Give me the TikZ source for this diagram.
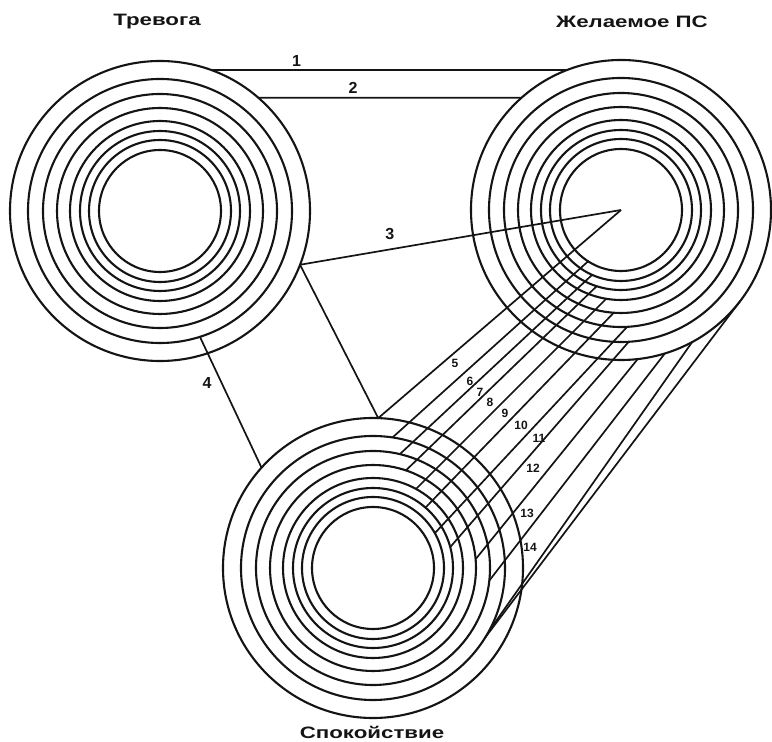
\documentclass[tikz,border=0pt]{standalone}
\usepackage{fontspec}
\setmainfont{Liberation Sans}
\newfontfamily\ttlfont[FakeStretch=1.35]{Liberation Sans}
\usetikzlibrary{calc}
\definecolor{Ink}{HTML}{141414}

\begin{document}
\begin{tikzpicture}[x=1pt,y=1pt,
    ring/.style={draw=Ink,line width=2.1pt},
    link/.style={draw=Ink,line width=1.7pt},
    ttl/.style={font=\ttlfont\bfseries\fontsize{16.5}{18}\selectfont,text=Ink},
    num/.style={font=\bfseries\fontsize{16}{17}\selectfont,text=Ink,inner sep=1pt},
    tag/.style={font=\bfseries\fontsize{12}{13}\selectfont,text=Ink,inner sep=0.5pt}]
  \useasboundingbox (0,0) rectangle (772,742);
  \coordinate (A) at (160,531);
  \coordinate (B) at (621,532);
  \coordinate (C) at (373,174);
  % rings
  \foreach \c in {A,B,C}
    \foreach \r in {150,132,117,103,90,80,71,61}
      \draw[ring] (\c) circle[radius=\r pt];
  \node[ttl] (tA) at (157,720) {Тревога};
  \node[ttl] (tB) at (632,720) {Желаемое ПС};
  \node[ttl] (tC) at (372,10) {Спокойствие};
  % ends on the rings
  \coordinate (a1) at ($(A)+(70:150pt)$);
  \coordinate (b1) at ($(B)+(111.1:150pt)$);
  \coordinate (a2) at ($(A)+(49:150pt)$);
  \coordinate (b2) at ($(B)+(131.6:150pt)$);
  \coordinate (a3) at ($(A)+(-21:150pt)$);
  \coordinate (c0) at ($(C)+(88:150pt)$);
  \coordinate (a4) at ($(A)+(-72.4:132pt)$);
  \coordinate (c4) at ($(C)+(138:150pt)$);
  \draw[link] (a1) -- node[num,above=2pt,pos=0.24]{1} (b1);
  \draw[link] (a2) -- node[num,above=2pt,pos=0.36]{2} (b2);
  \draw[link] (a3) -- node[num,above=8pt,pos=0.28]{3} (B);
  \draw[link] (a3) -- (c0) -- (B);
  \draw[link] (a4) -- node[num,left=8pt,pos=0.35]{4} (c4);
  % bundle from Спокойствие to Желаемое ПС
  \foreach \k/\xc/\yc/\xb/\yb in {
      6/392.6/304.6/588.7/481.2, 7/399.9/287.9/592.4/467.4,
      8/405.9/271.6/596.9/456.0, 9/416.0/253.0/606.4/443.4,
      10/425.5/234.4/613.8/429.3, 11/434.9/208.9/627.1/415.1,
      12/450.2/194.9/628.7/400.2, 13/475.6/182.8/637.6/382.8,
      14/489.3/161.4/664.6/388.2, 15/489.0/111.0/692.2/400.0,
      16/484.9/104.1/740.3/441.1}
  {
    \coordinate (c\k) at (\xc,\yc);
    \coordinate (b\k) at (\xb,\yb);
    \draw[link] (c\k) -- (b\k);
  }
  \foreach \k/\lx/\ly in {5/455/379, 6/470/361, 7/480/350, 8/490/340,
      9/505/329, 10/521/317, 11/539/304, 12/533/274, 13/527/229, 14/530/195}
    \node[tag] (n\k) at (\lx,\ly) {\k};
\end{tikzpicture}
\end{document}
